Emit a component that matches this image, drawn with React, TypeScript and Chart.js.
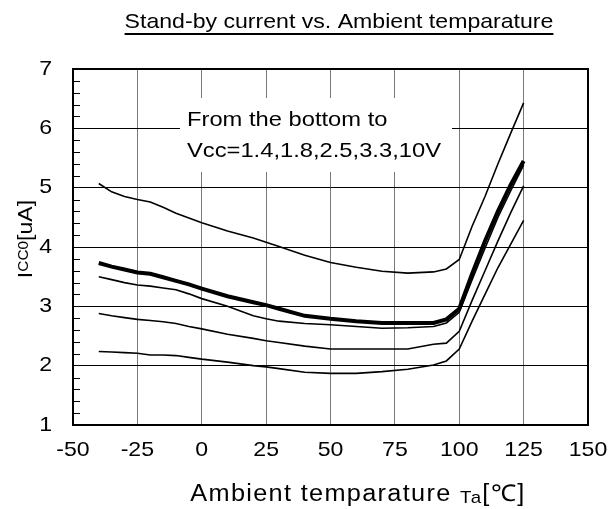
import React, { useEffect, useRef } from "react";
import { Chart, registerables } from "chart.js";

Chart.register(...registerables);

// ---- data ----
const temperatures = [-40, -35, -30, -25, -20, -15, -10, -5, 0, 10, 20, 25, 30, 40, 50, 60, 70, 80, 90, 95, 100, 105, 110, 115, 120, 125];
const vcc14 = [2.24, 2.23, 2.22, 2.21, 2.18, 2.18, 2.17, 2.14, 2.11, 2.06, 2.0, 1.98, 1.95, 1.89, 1.87, 1.87, 1.9, 1.94, 2.01, 2.08, 2.28, 2.75, 3.2, 3.65, 4.05, 4.45];
const vcc18 = [2.88, 2.84, 2.81, 2.78, 2.76, 2.74, 2.71, 2.66, 2.62, 2.53, 2.46, 2.42, 2.39, 2.33, 2.28, 2.28, 2.28, 2.28, 2.36, 2.38, 2.58, 3.1, 3.6, 4.1, 4.58, 5.03];
const vcc25 = [3.5, 3.45, 3.4, 3.36, 3.34, 3.31, 3.28, 3.21, 3.13, 3.0, 2.84, 2.79, 2.75, 2.71, 2.69, 2.66, 2.63, 2.64, 2.66, 2.72, 2.9, 3.45, 3.98, 4.5, 4.95, 5.38];
const vcc33 = [3.73, 3.67, 3.62, 3.57, 3.55, 3.49, 3.43, 3.37, 3.3, 3.17, 3.07, 3.02, 2.96, 2.84, 2.79, 2.75, 2.72, 2.72, 2.72, 2.78, 2.96, 3.55, 4.1, 4.6, 5.05, 5.45];
const vcc10 = [5.07, 4.93, 4.85, 4.8, 4.76, 4.67, 4.57, 4.49, 4.41, 4.27, 4.15, 4.08, 4.01, 3.86, 3.74, 3.66, 3.59, 3.56, 3.58, 3.63, 3.79, 4.35, 4.85, 5.4, 5.92, 6.43];

const seriesLabels = ["1.4V", "1.8V", "2.5V", "3.3V", "10V"];
const xTicks = [-50, -25, 0, 25, 50, 75, 100, 125, 150];
const yTicks = [1, 2, 3, 4, 5, 6, 7];
const titleText = "Stand-by current vs. Ambient temparature";
const xTitleMain = "Ambient temparature ";
const xTitleSub = "Ta";
const xTitleUnit = "[℃]";
const yTitleMain = "I";
const yTitleSub = "CC0";
const yTitleUnit = "[uA]";
const noteLines = ["From the bottom to", "Vcc=1.4,1.8,2.5,3.3,10V"];

const FONT = '"Liberation Sans", Arial, sans-serif';
const SX = 1.1;

function drawText(
  ctx: CanvasRenderingContext2D,
  s: string,
  x: number,
  y: number,
  size: number,
  align: CanvasTextAlign,
  baseline: CanvasTextBaseline = "alphabetic",
  sx: number = SX,
  ls: number = 0
) {
  ctx.save();
  ctx.font = `${size}px ${FONT}`;
  ctx.fillStyle = "#000";
  ctx.textAlign = align;
  ctx.textBaseline = baseline;
  (ctx as any).letterSpacing = `${ls}px`;
  ctx.translate(x, y);
  ctx.scale(sx, 1);
  ctx.fillText(s, 0, 0);
  ctx.restore();
}

function measure(ctx: CanvasRenderingContext2D, s: string, size: number, sx: number = SX, ls: number = 0) {
  ctx.save();
  ctx.font = `${size}px ${FONT}`;
  (ctx as any).letterSpacing = "0px";
  const w = (ctx.measureText(s).width + ls * s.length) * sx;
  ctx.restore();
  return w;
}

const decoPlugin = {
  id: "deco",
  beforeDatasetsDraw(chart: any) {
    const { ctx, chartArea: a, scales } = chart;
    ctx.save();
    // minor ticks on the y axis (every 0.2)
    ctx.strokeStyle = "#000";
    ctx.lineWidth = 1;
    for (let i = 1; i < 30; i++) {
      if (i % 5 === 0) continue;
      const v = 1 + i * 0.2;
      const py = Math.round(scales.y.getPixelForValue(v)) + 0.5;
      ctx.beginPath();
      ctx.moveTo(a.left, py);
      ctx.lineTo(a.left + 7, py);
      ctx.stroke();
    }
    // note box
    ctx.fillStyle = "#fff";
    ctx.fillRect(180, 98, 272, 74);
    ctx.restore();
    drawText(ctx, noteLines[0], 187, 126, 21, "left", "alphabetic", 1.13);
    drawText(ctx, noteLines[1], 187, 157, 21, "left", "alphabetic", 1.13);
  },
  afterDraw(chart: any) {
    const { ctx, chartArea: a, scales } = chart;
    // frame
    ctx.save();
    ctx.strokeStyle = "#000";
    ctx.lineWidth = 2;
    ctx.strokeRect(a.left, a.top, a.right - a.left, a.bottom - a.top);
    ctx.restore();

    // tick labels
    for (const v of yTicks) {
      drawText(ctx, String(v), 52, scales.y.getPixelForValue(v), 21, "right", "middle");
    }
    for (const v of xTicks) {
      drawText(ctx, String(v), scales.x.getPixelForValue(v), 450, 21, "center", "middle");
    }

    // title with underline
    const tw = measure(ctx, titleText, 21);
    const tcx = 339;
    drawText(ctx, titleText, tcx, 28, 21, "center");
    ctx.save();
    ctx.strokeStyle = "#000";
    ctx.lineWidth = 2;
    ctx.beginPath();
    ctx.moveTo(tcx - tw / 2, 34);
    ctx.lineTo(tcx + tw / 2, 34);
    ctx.stroke();
    ctx.restore();

    // x title
    const LS = 1.2;
    const XSX = 1.1;
    const w1 = measure(ctx, xTitleMain, 23, XSX, LS);
    const w2 = measure(ctx, xTitleSub, 17, XSX, LS);
    const w3 = measure(ctx, xTitleUnit, 23, XSX, LS);
    let xs = 358 - (w1 + w2 + w3) / 2;
    drawText(ctx, xTitleMain, xs, 501, 23, "left", "alphabetic", XSX, LS);
    xs += w1;
    drawText(ctx, xTitleSub, xs, 503, 17, "left", "alphabetic", XSX, LS);
    xs += w2;
    drawText(ctx, xTitleUnit, xs, 501, 23, "left", "alphabetic", XSX, LS);

    // y title (rotated)
    const m1 = measure(ctx, yTitleMain, 21);
    const m2 = measure(ctx, yTitleSub, 14);
    const m3 = measure(ctx, yTitleUnit, 21);
    ctx.save();
    ctx.translate(32, 239);
    ctx.rotate(-Math.PI / 2);
    let ys = -(m1 + m2 + m3) / 2;
    drawText(ctx, yTitleMain, ys, 0, 21, "left");
    ys += m1;
    drawText(ctx, yTitleSub, ys, -4, 14, "left");
    ys += m2;
    drawText(ctx, yTitleUnit, ys, 0, 21, "left");
    ctx.restore();
  },
};

function pts(ys: number[]) {
  return temperatures.map((t, i) => ({ x: t, y: ys[i] }));
}

export default function App() {
  const ref = useRef<HTMLCanvasElement | null>(null);
  useEffect(() => {
    if (!ref.current) return;
    const all = [vcc14, vcc18, vcc25, vcc33, vcc10];
    const chart = new Chart(ref.current, {
      type: "line",
      data: {
        datasets: all.map((ys, i) => ({
          label: seriesLabels[i],
          data: pts(ys),
          borderColor: "#000",
          borderWidth: i === 3 ? 4 : 1.6,
          pointRadius: 0,
          tension: 0,
          fill: false,
        })),
      },
      options: {
        animation: false,
        responsive: false,
        events: [],
        layout: { padding: { left: 0, right: 23, top: 69, bottom: 0 } },
        plugins: { legend: { display: false }, tooltip: { enabled: false }, title: { display: false } },
        scales: {
          x: {
            type: "linear",
            min: -50,
            max: 150,
            ticks: { display: false, stepSize: 25 },
            grid: { color: "#7a7a7a", lineWidth: 1, drawTicks: false },
            border: { display: false },
            afterFit: (s: any) => {
              s.height = 84;
            },
          },
          y: {
            type: "linear",
            min: 1,
            max: 7,
            ticks: { display: false, stepSize: 1 },
            grid: { color: "#000", lineWidth: 1, drawTicks: false },
            border: { display: false },
            afterFit: (s: any) => {
              s.width = 73;
            },
          },
        },
      },
      plugins: [decoPlugin],
    });
    return () => chart.destroy();
  }, []);
  return (
    <div style={{ position: "absolute", left: 0, top: 0, width: 611, height: 509, background: "#fff" }}>
      <canvas ref={ref} width={611} height={509} style={{ display: "block" }} />
    </div>
  );
}
